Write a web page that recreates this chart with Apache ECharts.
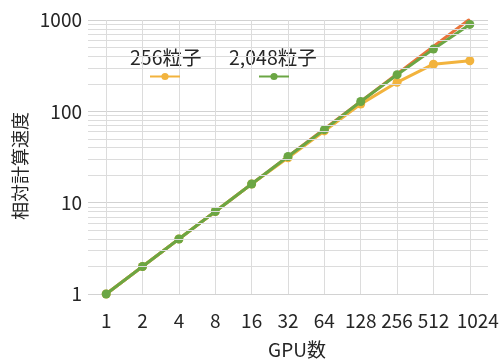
<!DOCTYPE html>
<html>
<head>
<meta charset="utf-8">
<script src="https://cdn.jsdelivr.net/npm/echarts@6/dist/echarts.min.js"></script>
<style>
  html, body { margin: 0; padding: 0; background: #fff; }
  #chart { width: 502px; height: 364px; }
</style>
</head>
<body>
<div id="chart"></div>
<script>
// GPU counts on the x axis
const gpuCounts = ['1', '2', '4', '8', '16', '32', '64', '128', '256', '512', '1024'];
// Ideal (linear) speed-up
const idealSpeedup = [1, 2, 4, 8, 16, 32, 64, 128, 256, 512, 1024];
// Measured relative speed, 256 particles
const speed256 = [1, 2, 4, 8, 16, 31, 61, 120, 208, 328, 358];
// Measured relative speed, 2,048 particles
const speed2048 = [1, 2, 4, 8, 16, 32, 63, 128, 252, 480, 895];
const seriesNames = ['256粒子', '2,048粒子'];
const yMin = 1, yMax = 1000;

const FONT = '"Noto Sans CJK JP", "Noto Sans", sans-serif';
const GRID_COLOR = '#dcdcdc';
const TEXT_COLOR = '#262626';

// Minor log gridlines (2..9 of each decade)
const minorGrid = [];
for (let d = yMin; d < yMax; d *= 10) {
  for (let m = 2; m <= 9; m++) minorGrid.push({ yAxis: m * d });
}

const lastIdx = gpuCounts.length - 1;

const chart = echarts.init(document.getElementById('chart'), null, { renderer: 'canvas' });
chart.setOption({
  animation: false,
  backgroundColor: '#fff',
  textStyle: { fontFamily: FONT },
  grid: { left: 88, right: 14, top: 20, bottom: 67 },
  legend: [
    {
      data: [seriesNames[0]], left: 149, top: 72, padding: 0,
      itemWidth: 30, itemHeight: 9, formatter: () => '',
      selectedMode: false
    },
    {
      data: [seriesNames[1]], left: 258, top: 72, padding: 0,
      itemWidth: 30, itemHeight: 9, formatter: () => '',
      selectedMode: false
    }
  ],
  graphic: [
    { type: 'text', left: 130, top: 48, style: { text: seriesNames[0], font: '19.5px ' + FONT, fill: TEXT_COLOR } },
    { type: 'text', left: 229, top: 48, style: { text: seriesNames[1], font: '19.5px ' + FONT, fill: TEXT_COLOR } }
  ],
  xAxis: {
    type: 'category',
    data: gpuCounts,
    boundaryGap: true,
    name: 'GPU数',
    nameLocation: 'middle',
    nameGap: 46,
    nameTextStyle: { fontSize: 19, color: TEXT_COLOR, fontFamily: FONT, padding: [0, 0, 0, 18] },
    axisLine: { show: false },
    axisTick: { show: false },
    axisLabel: {
      interval: 0, fontSize: 19, color: TEXT_COLOR, margin: 17, fontFamily: FONT,
      formatter: (v, i) => (i === lastIdx ? '{last|' + v + '}' : v),
      rich: { last: { fontSize: 19, color: TEXT_COLOR, fontFamily: FONT, padding: [0, 0, 0, 16] } }
    },
    splitLine: { show: true, interval: 0, alignWithLabel: true, lineStyle: { color: GRID_COLOR, width: 1 } }
  },
  yAxis: {
    type: 'log',
    min: yMin,
    max: yMax,
    name: '相対計算速度',
    nameLocation: 'middle',
    nameGap: 59,
    nameTextStyle: { fontSize: 18, color: TEXT_COLOR, fontFamily: FONT, padding: [0, 18, 0, 0] },
    axisLine: { show: false },
    axisTick: { show: false },
    axisLabel: { fontSize: 19, color: TEXT_COLOR, margin: 6, fontFamily: FONT, formatter: v => String(v) },
    splitLine: { show: true, lineStyle: { color: '#d2d2d2', width: 1 } }
  },
  series: [
    {
      name: 'grid',
      type: 'line',
      data: [],
      z: 1,
      silent: true,
      markLine: {
        silent: true,
        symbol: 'none',
        label: { show: false },
        lineStyle: { color: GRID_COLOR, width: 1, type: 'solid' },
        emphasis: { disabled: true },
        data: minorGrid
      }
    },
    {
      name: '理想',
      type: 'line',
      data: idealSpeedup,
      showSymbol: false,
      lineStyle: { color: '#E8743B', width: 3 },
      itemStyle: { color: '#E8743B' },
      z: 2
    },
    {
      name: seriesNames[0],
      type: 'line',
      data: speed256,
      symbol: 'circle',
      symbolSize: 9,
      lineStyle: { color: '#F2B33D', width: 3 },
      itemStyle: { color: '#F2B33D' },
      z: 3
    },
    {
      name: seriesNames[1],
      type: 'line',
      data: speed2048,
      symbol: 'circle',
      symbolSize: 9,
      lineStyle: { color: '#6BA644', width: 3 },
      itemStyle: { color: '#6BA644' },
      z: 4
    }
  ]
});
</script>
</body>
</html>
